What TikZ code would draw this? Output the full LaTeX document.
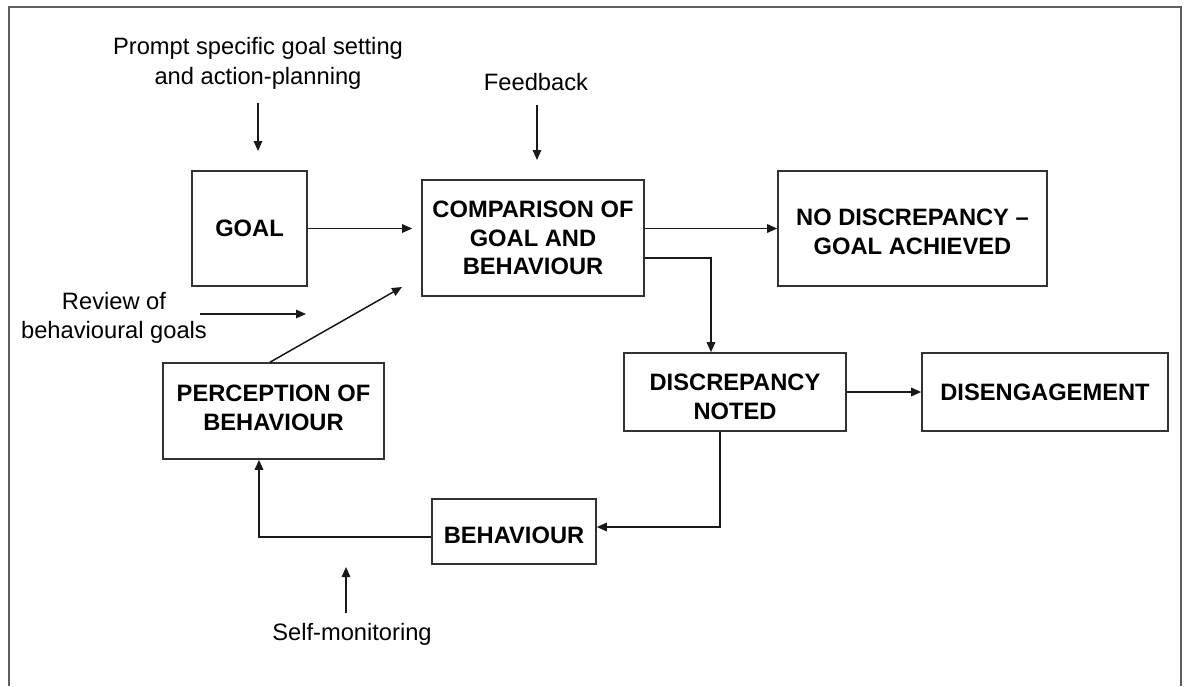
\documentclass[tikz,border=0pt]{standalone}
\usepackage{fontspec}
\setmainfont{Liberation Sans}
\usetikzlibrary{arrows.meta,calc}
\definecolor{framec}{RGB}{95,95,95}
\definecolor{boxc}{RGB}{50,50,50}
\definecolor{linec}{RGB}{25,25,25}
\begin{document}
\begin{tikzpicture}[x=1pt,y=-1pt,
  boxfont/.style={font=\bfseries\fontsize{23.7}{28.8}\selectfont},
  box/.style={draw=boxc, line width=1.6pt, rectangle, inner sep=0pt, align=center, boxfont},
  boxtext/.style={inner sep=0pt, align=center, boxfont},
  lbl/.style={align=center, inner sep=0pt, font=\fontsize{23.7}{29.5}\selectfont},
  arr/.style={draw=linec, line width=1.5pt, -{Triangle[length=10pt,width=8.5pt]}}
]
\useasboundingbox (0,0) rectangle (1184,686);
\draw[framec, line width=2pt] (9,686) -- (9,7) -- (1181,7) -- (1181,686);

% boxes
\node[box, minimum width=115pt, minimum height=115pt] (goal) at (249.5,228.5) {GOAL};
\node[box, minimum width=222pt, minimum height=116pt] (comp) at (533,238) {COMPARISON OF\\GOAL AND\\BEHAVIOUR};
\node[box, minimum width=269pt, minimum height=115pt,
      label={[boxtext, yshift=-3pt]center:NO DISCREPANCY –\\GOAL ACHIEVED}] (nodisc) at (912.5,228.5) {};
\node[box, minimum width=221pt, minimum height=96pt,
      label={[boxtext, yshift=3.5pt]center:PERCEPTION OF\\BEHAVIOUR}] (perc) at (273.5,411) {};
\node[box, minimum width=222pt, minimum height=78pt,
      label={[boxtext, yshift=-5pt]center:DISCREPANCY\\NOTED}] (disc) at (735,392) {};
\node[box, minimum width=246pt, minimum height=78pt] (diseng) at (1045,392) {DISENGAGEMENT};
\node[box, minimum width=164pt, minimum height=65pt,
      label={[boxtext, yshift=-3.5pt]center:BEHAVIOUR}] (beh) at (514,531.5) {};

% labels
\node[lbl] (prompt) at (258,63.5) {Prompt specific goal setting\\and action-planning};
\node[lbl] (feedback) at (536,82) {Feedback};
\node[lbl] (review) at (114,318) {Review of\\behavioural goals};
\node[lbl] (selfmon) at (352,634) {Self-monitoring};

% free-end coordinates
\coordinate (pa) at (258,103);
\coordinate (pb) at (258,151);
\coordinate (fa) at (537,105);
\coordinate (fb) at (537,160);
\coordinate (ra) at (200,314);
\coordinate (rb) at (306,314);
\coordinate (sa) at (346,613);
\coordinate (sb) at (346,567);
\coordinate (da) at (402,287);

% connectors
\draw[arr] (pa) -- (pb);
\draw[arr] (fa) -- (fb);
\draw[arr] (ra) -- (rb);
\draw[arr] (sa) -- (sb);
\draw[arr] (goal.east) -- ($(goal.east -| comp.west)+(-9,0)$);
\draw[arr] ([xshift=-3.5pt]perc.north) -- (da);
\draw[arr] (comp.east |- nodisc.west) -- (nodisc.west);
\draw[arr] ([yshift=-20pt]comp.east) -| ([xshift=-24pt]disc.north);
\draw[arr] (disc.east) -- (diseng.west);
\draw[arr] ([xshift=-15pt]disc.south) |- ([yshift=4.5pt]beh.east);
\draw[arr] ([yshift=-5.5pt]beh.west) -| ([xshift=-14.5pt]perc.south);
\end{tikzpicture}
\end{document}
